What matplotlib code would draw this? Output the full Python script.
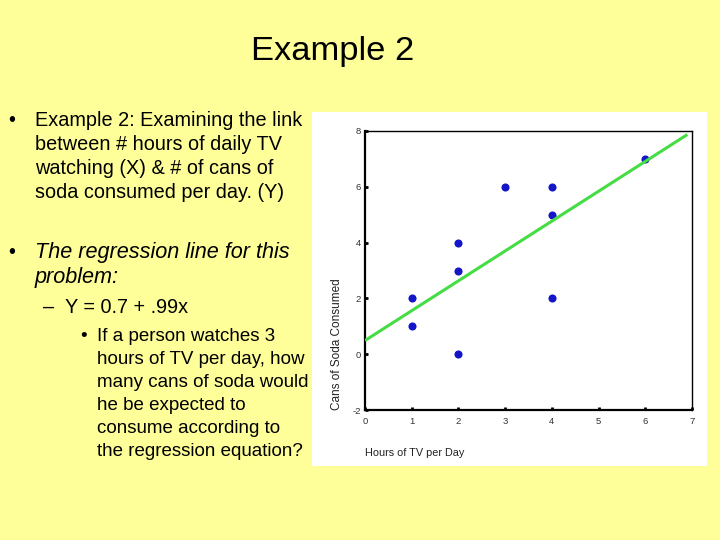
import matplotlib
matplotlib.use("Agg")
import matplotlib.pyplot as plt
from matplotlib.patches import Rectangle

# ---- data ----
hours_tv = [1, 1, 2, 2, 2, 3, 4, 4, 4, 6]
cans_soda = [2, 1, 0, 3, 4, 6, 6, 5, 2, 7]
fit_intercept = 0.49
fit_slope = 1.07
fit_x_range = [0, 6.9]
x_ticks = [0, 1, 2, 3, 4, 5, 6, 7]
y_ticks = [-2, 0, 2, 4, 6, 8]

title_text = "Example 2"
bullet1_lines = ["Example 2: Examining the link",
                 "between # hours of daily TV",
                 "watching (X) & # of cans of",
                 "soda consumed per day. (Y)"]
bullet2_lines = ["The regression line for this", "problem:"]
equation_text = "Y = 0.7 + .99x"
sub_lines = ["If a person watches 3",
             "hours of TV per day, how",
             "many cans of soda would",
             "he be expected to",
             "consume according to",
             "the regression equation?"]

W, H = 720, 540
plt.rcParams['font.family'] = ['Liberation Sans', 'DejaVu Sans']
plt.rcParams['axes.unicode_minus'] = False
fig = plt.figure(figsize=(7.2, 5.4), dpi=100)
fig.patch.set_facecolor('#FFFF99')

def fx(px):
    return px / W

def fy(py):
    return 1 - py / H

# white chart panel
fig.patches.append(Rectangle((fx(312), fy(466)), fx(707) - fx(312), fy(112) - fy(466),
                             transform=fig.transFigure, facecolor='white',
                             edgecolor='none', zorder=-10))

# title
fig.text(fx(333), fy(60), title_text, ha='center', va='baseline', fontsize=24.8, color='black')

# bullet 1
fs = 14.3
y0 = 126
for i, line in enumerate(bullet1_lines):
    fig.text(fx(35), fy(y0 + 24 * i), line, ha='left', va='baseline', fontsize=fs)
fig.text(fx(8), fy(y0), "•", ha='left', va='baseline', fontsize=fs)

# bullet 2 (italic)
fsi = 15.6
for i, line in enumerate(bullet2_lines):
    fig.text(fx(35), fy(258 + 25 * i), line, ha='left', va='baseline', fontsize=fsi, style='italic')
fig.text(fx(8), fy(258), "•", ha='left', va='baseline', fontsize=fs)

# equation
fig.text(fx(43), fy(313), "–", ha='left', va='baseline', fontsize=fs)
fig.text(fx(65), fy(313), equation_text, ha='left', va='baseline', fontsize=fs)

# sub bullet
fs2 = 13.5
for i, line in enumerate(sub_lines):
    fig.text(fx(97), fy(341 + 23.1 * i), line, ha='left', va='baseline', fontsize=fs2)
fig.text(fx(80), fy(341), "•", ha='left', va='baseline', fontsize=fs2)

# chart axes
ax = fig.add_axes([fx(365), fy(410), fx(692) - fx(365), fy(131) - fy(410)], zorder=2)
ax.set_facecolor('white')
ax.scatter(hours_tv, cans_soda, s=34, color='#1414C8', zorder=3, linewidths=0)
line_y = [fit_intercept + fit_slope * x for x in fit_x_range]
ax.plot(fit_x_range, line_y, color='#44DD44', lw=2.2, zorder=4, solid_capstyle='butt')
ax.set_xlim(0, 7)
ax.set_ylim(-2, 8)
ax.set_xticks(x_ticks)
ax.set_yticks(y_ticks)
ax.tick_params(direction='in', length=2.5, width=2, labelsize=6.8, labelcolor='#333333')
ax.tick_params(axis='x', pad=5)
ax.tick_params(axis='y', pad=3)
for sp in ax.spines.values():
    sp.set_linewidth(1.0)
    sp.set_color('black')
ax.spines['left'].set_linewidth(1.6)
ax.spines['bottom'].set_linewidth(1.6)

fig.text(fx(365), fy(456), "Hours of TV per Day", ha='left', va='baseline', fontsize=7.8, color='#222222')
fig.text(fx(337), fy(344), "Cans of Soda Consumed", ha='center', va='center', rotation=90,
         fontsize=8.5, color='#222222')

fig.savefig('out.png', dpi=100, facecolor=fig.get_facecolor())
